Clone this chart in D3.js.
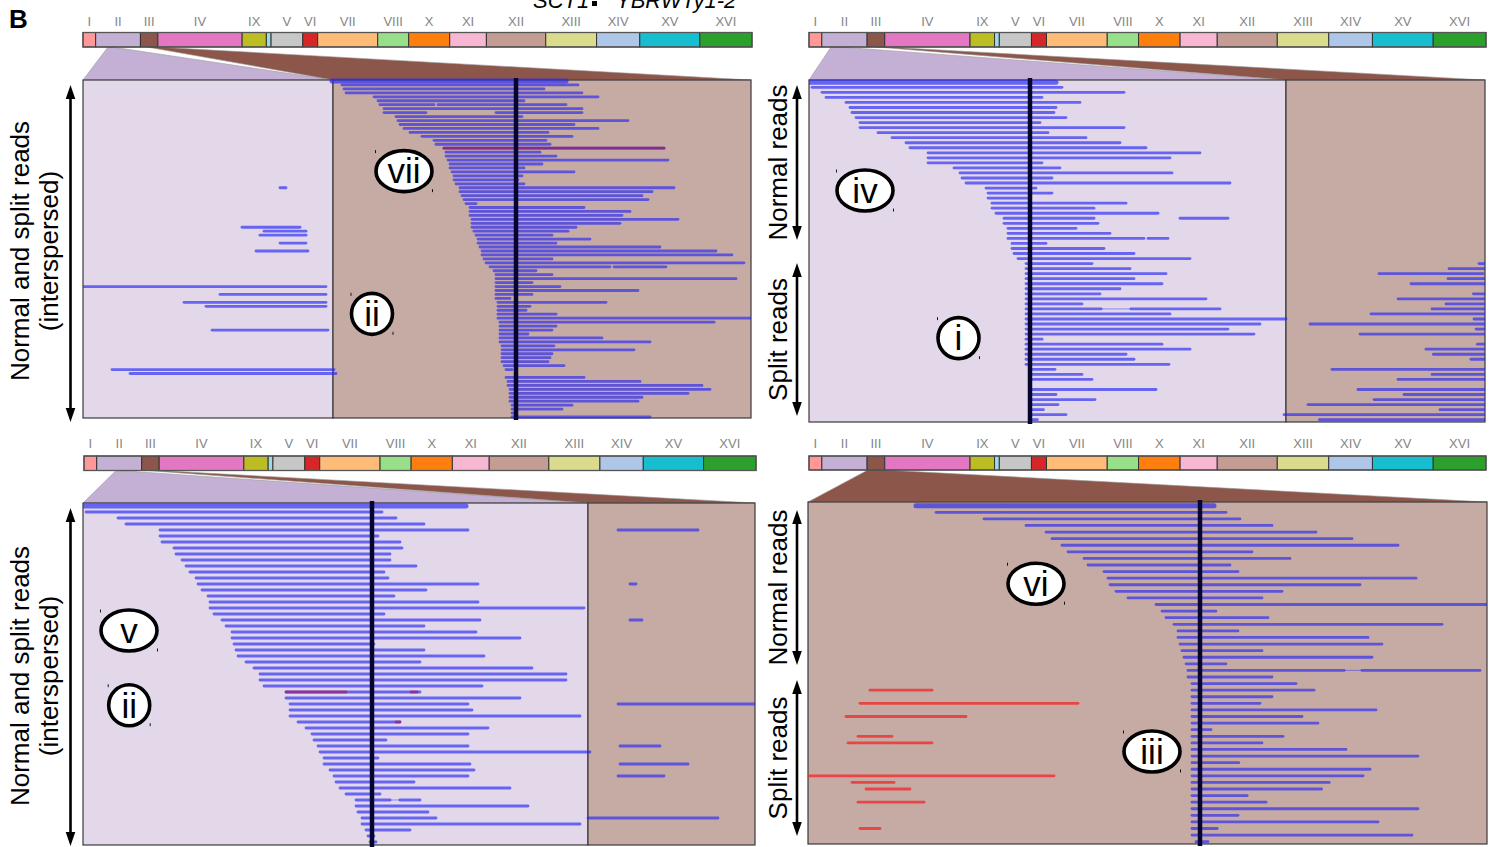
<!DOCTYPE html>
<html>
<head>
<meta charset="utf-8">
<script src="https://cdn.jsdelivr.net/npm/d3@7/dist/d3.min.js"></script>
<style>
  html,body{margin:0;padding:0;background:#fff;}
  svg{display:block;}
  text{font-family:"Liberation Sans",Arial,Helvetica,sans-serif;}
</style>
</head>
<body>
<svg id="fig" width="1498" height="847"></svg>
<script>
// ---- karyotype, in the order drawn on the bar (sizes in kb) ----
const chromNames  = ["I","II","III","IV","IX","mt","V","VI","VII","VIII","X","XI","XII","XIII","XIV","XV","XVI"];
const chromSizes  = [230.2,813.2,316.6,1531.9,439.9,85.8,576.9,270.2,1090.9,562.6,745.7,666.8,1078.2,924.4,784.3,1091.3,948.1];
const chromColors = ["#ff9896","#c5b0d5","#8c564b","#e377c2","#bcbd22","#9edae5","#c7c7c7","#d62728","#ffbb78","#98df8a","#ff7f0e","#f7b6d2","#c49c94","#dbdb8d","#aec7e8","#17becf","#2ca02c"];
const chromLabels = ["I","II","III","IV","IX","","V","VI","VII","VIII","X","XI","XII","XIII","XIV","XV","XVI"];

// ---- intervals highlighted on the karyotype for each read panel (kb within chromosome) ----
const zoomA = [{chr:"II",start:224,end:296},{chr:"III",start:120,end:283}];
const zoomB = [{chr:"II",start:165,end:327},{chr:"III",start:170,end:316}];
const zoomC = [{chr:"II",start:349,end:403},{chr:"III",start:100,end:300}];
const zoomD = [{chr:"III",start:15,end:305}];

// ---- window of each read panel (kb relative to the breakpoint) and chromosome change point ----
const windowA = [-216.5,117.5], splitA = -91.5;
const windowB = [-110.5,227.5], splitB = 128;
const windowC = [-144.5,191.5], splitC = 108;
const windowD = [-196,143.5],   splitD = null;

// ---- number of read rows per panel ----
const rowsA = 86, rowsB = 68, rowsC = 57, rowsD = 52;

// ---- reads: [row, start kb, end kb, stacked depth] ----
const readsA = [
  [0,-92,25,3],[1,-87,31],[2,-86,14],[3,-85,33],[4,-71,41],[5,-69,4],[6,-68,-41],[6,-39,25],[7,-66,33],
  [8,-66,-45],[8,-10,33],[9,-60,3],[10,-59,56],[11,-58,29],[12,-56,41],[13,-53,16],[14,-47,28],[15,-41,15],
  [16,-40,17],[17,-36,74],[18,-35,12],[19,-35,20],[20,-34,76],[21,-33,13],[22,-33,4],[23,-32,29],[24,-31,3],
  [25,-31,1],[26,-30,4],[27,-28,79],[28,-28,68],[29,-27,63],[30,-26,66],[31,-25,-20],[32,-23,34],[33,-23,57],
  [34,-23,53],[35,-22,81],[36,-22,52],[37,-22,30],[38,-21,26],[39,-20,18],[40,-19,37],[41,-19,20],[42,-18,72],
  [43,-17,100],[44,-17,108],[45,-16,18],[46,-15,114],[47,-13,47],[47,49,75],[48,-11,10],[49,-10,18],[50,-10,110],
  [51,-10,8],[52,-10,22],[53,-10,61],[54,-10,8],[55,-10,-3],[56,-9,45],[57,-9,7],[58,-9,5],[59,-9,20],[60,-9,118],
  [61,-8,99],[62,-8,20],[63,-8,18],[64,-8,6],[65,-8,43],[66,-8,67],[67,-7,19],[68,-7,59],[69,-7,18],[70,-7,17],
  [71,-7,16],[72,-6,24],[73,-5,-2],[75,-5,34],[76,-4,62],[77,-4,93],[78,-3,97],[79,-3,86],[80,-3,63],[81,-3,61],
  [82,-2,28],[83,-2,23],[84,-2,0],[85,-2,67],
  // parts mapping on chromosome II
  [27,-118,-115],[37,-137,-108],[38,-126,-105],[39,-128,-105],[41,-118,-105],[43,-130,-104],[52,-217,-95],
  [54,-148,-95],[56,-166,-95],[57,-155,-95],[63,-152,-94],[73,-202,-91],[74,-193,-90]
];
const chimericA = [[17,-36,74]];
const linksA = [];
const splitReadsA = [];

const readsB = [
  [0,-111,13,3],[1,-109,16],[2,-104,47],[3,-102,6],[4,-92,25],[5,-90,13],[6,-89,12],[7,-87,18],[8,-85,5],
  [9,-85,47],[10,-76,9],[11,-69,28],[12,-62,45],[13,-60,58],[14,-51,85],[15,-51,70],[16,-51,6],[17,-38,15],
  [18,-35,71],[19,-34,11],[20,-32,100],[21,-22,3],[22,-21,11],[23,-21,0],[24,-19,48],[25,-19,32],[26,-17,64],
  [27,-13,32],[27,75,99],[28,-13,34],[29,-11,23],[30,-11,40],[31,-11,57],[31,59,69],[32,-9,8],[33,-9,37],
  [34,-8,52],[35,-6,80],
  [36,-2,31],[37,-2,50],[38,-2,68],[39,-2,52],[40,-2,66],[41,-2,45],[42,-2,35],[43,-2,88],[44,-2,26],
  [45,-2,35.5],[45,50.5,95],[46,-2,70],[47,-2,128],[48,-2,115],[49,-2,99],[50,-2,112],[51,-2,6],[52,-2,66],
  [53,-2,80],[54,-2,48],[55,-2,52],[56,-2,69.5],[57,0,12.5],[58,0,26],[59,0,31],[61,0,63],[62,0,13],
  [63,0,32.5],[64,0,14],[65,0,6.7],[66,0,18],[67,0,3.7],
  // parts mapping on chromosome III
  [36,224.5,240],[37,209.5,240],[38,174.5,226.5],[39,209,240],[40,190.5,240],[42,221.7,240],[43,184,240],
  [44,208,240],[45,201,240],[46,170.5,240],[47,222,240],[48,140,240],[49,223,240],[50,165,240],[52,223.7,240],
  [53,198,240],[54,201.7,240],[55,220.5,240],[57,151,240],[58,201,240],[59,184,240],[61,164,240],[62,187,240],
  [63,172,240],[64,139,240],[65,205,240],[66,127,240],[67,144.7,240]
];
const chimericB = [];
const linksB = [[45,35.5,50.5]];
const splitReadsB = [];

const readsC = [
  [0,-145,47,3],[1,-143,5],[2,-127,12],[3,-123,26],[4,-106,48],[5,-106,3],[6,-105,14],[7,-99,15],[8,-98,9],
  [9,-95,9],[10,-93,22],[11,-91,6],[12,-88,8],[13,-87,53],[14,-85,27],[15,-82,11],[16,-81,53],[17,-81,106],
  [18,-79,6],[19,-75,54],[20,-73,26],[21,-70,52],[22,-70,74],[23,-69,1],[24,-68,26],[25,-67,56],[26,-63,24],
  [27,-59,80],[28,-56,97],[29,-56,97],[30,-54,55],[31,-43,24],[32,-43,74],[33,-41,48],[34,-41,50],[35,-41,104],
  [36,-37,14],[37,-33,58],[38,-30,48],[39,-29,7],[40,-27,48],[41,-26,109],[42,-24,3],[43,-24,49],[44,-21,51],
  [45,-19,48],[46,-18,21],[47,-16,69],[48,-13,4],[49,-8,9],[49,14,24],[50,-8,78],[51,-7,28],[52,-5,32],
  [53,-5,104],[54,-3,19],[55,-2,1],[56,-1,2],
  // parts mapping on chromosome III
  [4,123,163],[13,129,132],[19,129,135],[33,123,200],[40,124,144],[43,124,158],[45,123,146],[52,108,173]
];
const chimericC = [[31,-43,-13],[31,19.5,22.5],[36,12,14]];
const linksC = [[49,9,14]];
const splitReadsC = [];

const readsD = [
  [0,-142,7,3],[1,-132,-99],[1,-98,13],[2,-108,20],[3,-87,36],[4,-77,58],[5,-74,76],[6,-69,99],[7,-66,26],
  [8,-58,45],[9,-56,15],[10,-48,19],[11,-46,108],[12,-45,80],[13,-42,41],[14,-36,31],[15,-22,150],[16,-19,8],
  [17,-17,34],[18,-13,121],[19,-11,19],[20,-11,84],[21,-10,91],[22,-9,31],[23,-8,86],[24,-7,13],[25,-6,72],
  [25,81,140],[26,-6,36],[27,-4,48],[28,-4,57],[29,-4,36],[30,-4,30],[31,-4,88],[32,-4,51],[33,-4,59],
  [34,-4,5.5],[35,-4,41.5],[36,-4,31],[37,-4,73],[38,-4,109],[39,-4,19.4],[40,-4,85],[41,-4,81.6],[42,-4,64.6],
  [43,-4,60.8],[44,-4,23.6],[45,-4,33],[46,-4,109],[47,-4,19],[48,-4,89],[49,-4,8.6],[50,-4,106],[51,-2,4]
];
const chimericD = [];
const linksD = [[25,72,81]];
const splitReadsD = [
  [28,-165,-134],[30,-170,-61],[32,-177,-117],[35,-171,-154],[36,-176,-134],[41,-196,-73],[42,-174,-153],
  [43,-167,-145],[45,-171,-138],[49,-170,-160]
];

// ---- circled annotations: [kb, row, numeral] ----
const notesA = [[-56,22.8,"vii"],[-72,58.9,"ii"]];
const notesB = [[-82.5,21.5,"iv"],[-35.75,50.8,"i"]];
const notesC = [[-121.5,20.75,"v"],[-121.4,33.2,"ii"]];
const notesD = [[-82,11.84,"vi"],[-24,37.3,"iii"]];

// ------------------------------------------------------------------
const svg = d3.select("#fig");
const genomeTotal = d3.sum(chromSizes);
const chromStart = {};
let acc = 0;
chromNames.forEach((n,i) => { chromStart[n] = acc; acc += chromSizes[i]; });
const colorOf = n => chromColors[chromNames.indexOf(n)];
const paleOf = n => d3.interpolateRgb(colorOf(n), "#ffffff")(0.5);

const READ_BLUE = "rgb(40,40,245)";

const layout = [
  {bar:{x0:83,x1:752,y:32.5,h:14.5}, labelY:26, box:{x0:83,x1:751,y0:80,y1:418}, rowY:[81,417],
   zoom:zoomA, win:windowA, split:splitA, nRows:rowsA, reads:readsA, chim:chimericA, links:linksA, red:splitReadsA, notes:notesA,
   axis:{kind:"single", lines:["Normal and split reads","(interspersed)"], textX:[29,58], cy:251, arrowX:70.5, arrows:[[85,422]]}},
  {bar:{x0:809,x1:1486,y:32.5,h:14.5}, labelY:26, box:{x0:809,x1:1485,y0:80,y1:422}, rowY:[82.3,419.7],
   zoom:zoomB, win:windowB, split:splitB, nRows:rowsB, reads:readsB, chim:chimericB, links:linksB, red:splitReadsB, notes:notesB,
   axis:{kind:"pair", items:[["Normal reads",85,240],["Split reads",263,416]], textX:787, arrowX:797}},
  {bar:{x0:84,x1:756,y:456,h:14.5}, labelY:448, box:{x0:83,x1:755,y0:503,y1:845}, rowY:[506,842],
   zoom:zoomC, win:windowC, split:splitC, nRows:rowsC, reads:readsC, chim:chimericC, links:linksC, red:splitReadsC, notes:notesC,
   axis:{kind:"single", lines:["Normal and split reads","(interspersed)"], textX:[29,58], cy:676, arrowX:70.5, arrows:[[508,846]]}},
  {bar:{x0:809,x1:1486,y:456,h:14}, labelY:448, box:{x0:808,x1:1487,y0:502,y1:844}, rowY:[505.7,841.7],
   zoom:zoomD, win:windowD, split:splitD, nRows:rowsD, reads:readsD, chim:chimericD, links:linksD, red:splitReadsD, notes:notesD,
   axis:{kind:"pair", items:[["Normal reads",510,665],["Split reads",680,836]], textX:787, arrowX:797}}
];

const defs = svg.append("defs");

function arrow(g, x, y0, y1) {
  const head = 14, hw = 4.8;
  g.append("line").attr("x1",x).attr("x2",x).attr("y1",y0+head-2).attr("y2",y1-head+2)
    .attr("stroke","#000").attr("stroke-width",2.6);
  g.append("path").attr("d",`M${x},${y0} L${x-hw},${y0+head} L${x+hw},${y0+head} Z`).attr("fill","#000");
  g.append("path").attr("d",`M${x},${y1} L${x-hw},${y1-head} L${x+hw},${y1-head} Z`).attr("fill","#000");
}

layout.forEach((p, pi) => {
  const g = svg.append("g");
  const barX = d3.scaleLinear().domain([0, genomeTotal]).range([p.bar.x0, p.bar.x1]);
  const x = d3.scaleLinear().domain(p.win).range([p.box.x0, p.box.x1]);
  const y = d3.scaleLinear().domain([0, p.nRows - 1]).range(p.rowY);
  const barBottom = p.bar.y + p.bar.h;

  // regions of the read window, one per chromosome
  const regions = p.split == null
    ? [{chr:p.zoom[0].chr, from:p.win[0], to:p.win[1], z:p.zoom[0]}]
    : [{chr:p.zoom[0].chr, from:p.win[0], to:p.split, z:p.zoom[0]},
       {chr:p.zoom[1].chr, from:p.split, to:p.win[1], z:p.zoom[1]}];

  // wedges linking karyotype intervals to the read window
  regions.forEach(r => {
    const a = barX(chromStart[r.chr] + r.z.start), b = barX(chromStart[r.chr] + r.z.end);
    g.append("path")
      .attr("d", `M${a},${barBottom} L${b},${barBottom} L${x(r.to)},${p.box.y0} L${x(r.from)},${p.box.y0} Z`)
      .attr("fill", colorOf(r.chr)).attr("stroke","#9a9a9a").attr("stroke-width",0.6);
  });

  // region backgrounds
  regions.forEach(r => {
    g.append("rect").attr("x", x(r.from)).attr("y", p.box.y0)
      .attr("width", x(r.to) - x(r.from)).attr("height", p.box.y1 - p.box.y0)
      .attr("fill", paleOf(r.chr)).attr("stroke","#3a3a3a").attr("stroke-width",1.2);
  });

  // clip reads to the window
  const cid = "clip" + pi;
  defs.append("clipPath").attr("id", cid).append("rect")
    .attr("x", p.box.x0).attr("y", p.box.y0 - 4)
    .attr("width", p.box.x1 - p.box.x0).attr("height", p.box.y1 - p.box.y0 + 8);
  const rg = g.append("g").attr("clip-path", `url(#${cid})`);

  rg.selectAll("line.link").data(p.links).join("line").attr("class","link")
    .attr("x1", d => x(d[1])).attr("x2", d => x(d[2]))
    .attr("y1", d => y(d[0])).attr("y2", d => y(d[0]))
    .attr("stroke", READ_BLUE).attr("stroke-opacity",0.5).attr("stroke-width",0.9);

  rg.selectAll("line.read").data(p.reads).join("line").attr("class","read")
    .attr("x1", d => x(d[1])).attr("x2", d => x(d[2]))
    .attr("y1", d => y(d[0])).attr("y2", d => y(d[0]))
    .attr("stroke", READ_BLUE).attr("stroke-opacity",0.66)
    .attr("stroke-width", d => 2.8 + ((d[3] || 1) - 1) * 1.1)
    .attr("stroke-linecap","round");

  rg.selectAll("line.chim").data(p.chim).join("line").attr("class","chim")
    .attr("x1", d => x(d[1])).attr("x2", d => x(d[2]))
    .attr("y1", d => y(d[0])).attr("y2", d => y(d[0]))
    .attr("stroke", "rgb(160,20,90)").attr("stroke-opacity",0.6)
    .attr("stroke-width", 2.8).attr("stroke-linecap","round");

  rg.selectAll("line.red").data(p.red).join("line").attr("class","red")
    .attr("x1", d => x(d[1])).attr("x2", d => x(d[2]))
    .attr("y1", d => y(d[0])).attr("y2", d => y(d[0]))
    .attr("stroke", "rgb(240,45,45)").attr("stroke-opacity",0.8)
    .attr("stroke-width", 2.8).attr("stroke-linecap","round");

  // breakpoint
  g.append("line").attr("x1", x(0)).attr("x2", x(0))
    .attr("y1", p.box.y0 - 2).attr("y2", p.box.y1 + 2)
    .attr("stroke","#05052e").attr("stroke-width",4.5);

  // circled numerals
  p.notes.forEach(([kb,row,label]) => {
    const cx = x(kb), cy = y(row);
    const rx = label.length > 2 || label === "iv" || label === "v" || label === "vi" ? 28 : 20.5;
    const ry = 20.5;
    g.append("ellipse").attr("cx",cx).attr("cy",cy).attr("rx",rx).attr("ry",ry)
      .attr("fill","#fff").attr("stroke","#000").attr("stroke-width",3.6);
    g.append("text").attr("x",cx).attr("y",cy + 12.3).attr("text-anchor","middle")
      .attr("font-size",35).attr("fill","#000").text(label);
    g.append("line").attr("x1",cx-rx-0.5).attr("x2",cx-rx-0.5).attr("y1",cy-ry-0.5).attr("y2",cy-ry+2.5)
      .attr("stroke","#000").attr("stroke-width",0.9);
    g.append("line").attr("x1",cx+rx+0.5).attr("x2",cx+rx+0.5).attr("y1",cy+ry+0.5).attr("y2",cy+ry-2.5)
      .attr("stroke","#000").attr("stroke-width",0.9);
  });

  // karyotype bar
  const bar = g.append("g");
  bar.selectAll("rect").data(chromNames).join("rect")
    .attr("x", n => barX(chromStart[n]))
    .attr("width", (n,i) => barX(chromStart[n] + chromSizes[i]) - barX(chromStart[n]))
    .attr("y", p.bar.y).attr("height", p.bar.h)
    .attr("fill", (n,i) => chromColors[i]).attr("stroke","#333").attr("stroke-width",1);
  bar.append("rect").attr("x",p.bar.x0).attr("y",p.bar.y).attr("width",p.bar.x1-p.bar.x0).attr("height",p.bar.h)
    .attr("fill","none").attr("stroke","#555").attr("stroke-width",1.3);
  bar.selectAll("text").data(chromNames.filter((n,i) => chromLabels[i])).join("text")
    .attr("x", n => barX(chromStart[n] + chromSizes[chromNames.indexOf(n)] / 2))
    .attr("y", p.labelY).attr("text-anchor","middle").attr("font-size",13).attr("fill","#858585")
    .text(n => chromLabels[chromNames.indexOf(n)]);

  // read-type axis
  const ax = p.axis;
  if (ax.kind === "single") {
    ax.arrows.forEach(([a,b]) => arrow(g, ax.arrowX, a, b));
    ax.lines.forEach((t,i) => {
      g.append("text").attr("transform",`translate(${ax.textX[i]},${ax.cy}) rotate(-90)`)
        .attr("text-anchor","middle").attr("font-size",26).attr("fill","#000").text(t);
    });
  } else {
    ax.items.forEach(([t,a,b]) => {
      arrow(g, ax.arrowX, a, b);
      g.append("text").attr("transform",`translate(${ax.textX},${(a+b)/2}) rotate(-90)`)
        .attr("text-anchor","middle").attr("font-size",26).attr("fill","#000").text(t);
    });
  }
});

// panel letter and heading
svg.append("text").attr("x",9).attr("y",28).attr("font-size",26).attr("font-weight","bold").text("B");
svg.append("text").attr("x",533).attr("y",8).attr("font-size",22).attr("font-style","italic").text("SCT1");
svg.append("rect").attr("x",592).attr("y",1).attr("width",5).attr("height",5).attr("fill","#000");
svg.append("text").attr("x",616).attr("y",8).attr("font-size",22).attr("font-style","italic").text("YBRWTy1-2");
</script>
</body>
</html>
